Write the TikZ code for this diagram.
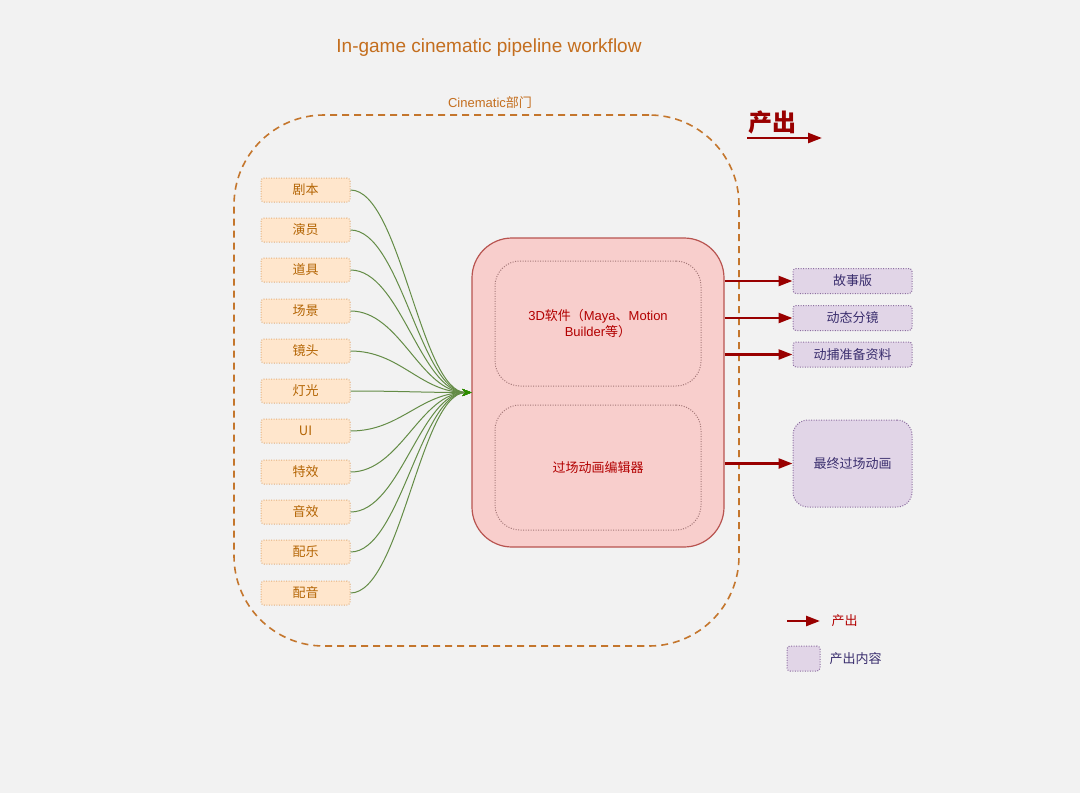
\documentclass[tikz,border=0pt]{standalone}
\usepackage{fontspec}
\setmainfont{Liberation Sans}
\newfontfamily\cjk{Noto Sans CJK SC}
\usetikzlibrary{arrows.meta}
\definecolor{bg}{RGB}{242,242,242}
\definecolor{orangetxt}{RGB}{196,110,30}
\definecolor{dashc}{RGB}{196,118,45}
\definecolor{inpfill}{RGB}{255,230,204}
\definecolor{inpdraw}{RGB}{225,175,125}
\definecolor{inptxt}{RGB}{180,101,4}
\definecolor{greenl}{RGB}{100,140,70}
\definecolor{greenh}{RGB}{45,139,0}
\definecolor{mainfill}{RGB}{248,206,204}
\definecolor{maindraw}{RGB}{184,84,80}
\definecolor{innerdraw}{RGB}{165,120,120}
\definecolor{redtxt}{RGB}{178,0,0}
\definecolor{darkred}{RGB}{153,0,0}
\definecolor{purfill}{RGB}{225,213,231}
\definecolor{purdraw}{RGB}{140,110,160}
\definecolor{purtxt}{RGB}{58,46,110}
\tikzset{
  fs/.style={font=\fontsize{13}{16}\selectfont},
  dotline/.style={line width=1pt, dash pattern=on 1pt off 1.5pt},
  inbox/.style={fs, draw=inpdraw, dotline, fill=inpfill, text=inptxt, rounded corners=3pt,
    minimum width=89pt, minimum height=24pt, inner sep=0pt},
  outbox/.style={fs, draw=purdraw, dotline, fill=purfill, text=purtxt, rounded corners=3pt,
    minimum width=119pt, minimum height=25pt, inner sep=0pt},
  feed/.style={draw=greenl, line width=1pt, -{Stealth[length=9pt,width=7pt,color=greenh]}},
  prod/.style={draw=darkred, line width=2.5pt, -{Triangle[length=14pt,width=10pt]}},
}
\begin{document}
\begin{tikzpicture}[x=1pt,y=-1pt]
\useasboundingbox (0,0) rectangle (1080,793);
\fill[bg] (0,0) rectangle (1080,793);

\node[font=\fontsize{19}{22}\selectfont, text=orangetxt] (title) at (489,48) {In-game cinematic pipeline workflow};

\node[draw=dashc, line width=1.6pt, dash pattern=on 7pt off 5pt, rounded corners=90pt,
  minimum width=505pt, minimum height=531pt] (dept) at (486.5,380.5) {};
\node[fs, text=orangetxt] (deptlabel) at (490,103) {Cinematic{\cjk 部门}};

% main box
\node[draw=maindraw, fill=mainfill, line width=1.2pt, rounded corners=40pt,
  minimum width=252pt, minimum height=309pt] (main) at (598,392.5) {};
\node[draw=innerdraw, dotline, rounded corners=25pt, minimum width=206pt, minimum height=125pt,
  fs, text=redtxt, align=center] (soft) at (598,323.5)
  {3D{\cjk 软件（}Maya{\cjk 、}Motion\\Builder{\cjk 等）}};
\node[draw=innerdraw, dotline, rounded corners=25pt, minimum width=206pt, minimum height=125pt,
  fs, text=redtxt] (editor) at (598,467.5) {\cjk 过场动画编辑器};

% inputs
\foreach \n/\t/\y in {a/剧本/190, b/演员/230, c/道具/270, d/场景/311, e/镜头/351, f/灯光/391,
  g/UI/431, h/特效/472, i/音效/512, j/配乐/552, k/配音/593} {
  \node[inbox] (in\n) at (305.5,\y) {\cjk \t};
}
\coordinate (conv) at (main.west);
\foreach \n in {a,b,c,d,e,f,g,h,i,j,k} {
  \draw[feed] (in\n.east) .. controls ([xshift=50pt]in\n.east) and ([xshift=-51pt]conv) .. (conv);
}

% outputs
\node[outbox] (o1) at (852.5,281) {\cjk 故事版};
\node[outbox] (o2) at (852.5,318) {\cjk 动态分镜};
\node[outbox] (o3) at (852.5,354.5) {\cjk 动捕准备资料};
\node[outbox, rounded corners=15pt, minimum height=87pt] (o4) at (852.5,463.5) {\cjk 最终过场动画};
\foreach \o in {o1,o2,o3,o4} {
  \draw[prod] (main.east |- \o.west) -- (\o.west);
}

% header
\node[font=\fontsize{24}{28}\selectfont\bfseries, text=darkred] (head) at (772,122) {\cjk\bfseries 产出};
\coordinate (ha) at (747,138);
\coordinate (hb) at (822,138);
\draw[prod] (ha) -- (hb);

% legend
\coordinate (la) at (787,621);
\coordinate (lb) at (820,621);
\draw[prod] (la) -- (lb);
\node[fs, text=redtxt, anchor=west] (lt1) at (828,621) {\cjk 产出};
\node[draw=purdraw, dotline, fill=purfill, rounded corners=3pt, minimum width=33pt, minimum height=25pt] (lbox) at (803.5,658.5) {};
\node[fs, text=purtxt, anchor=west] (lt2) at (826,659) {\cjk 产出内容};
\end{tikzpicture}
\end{document}
